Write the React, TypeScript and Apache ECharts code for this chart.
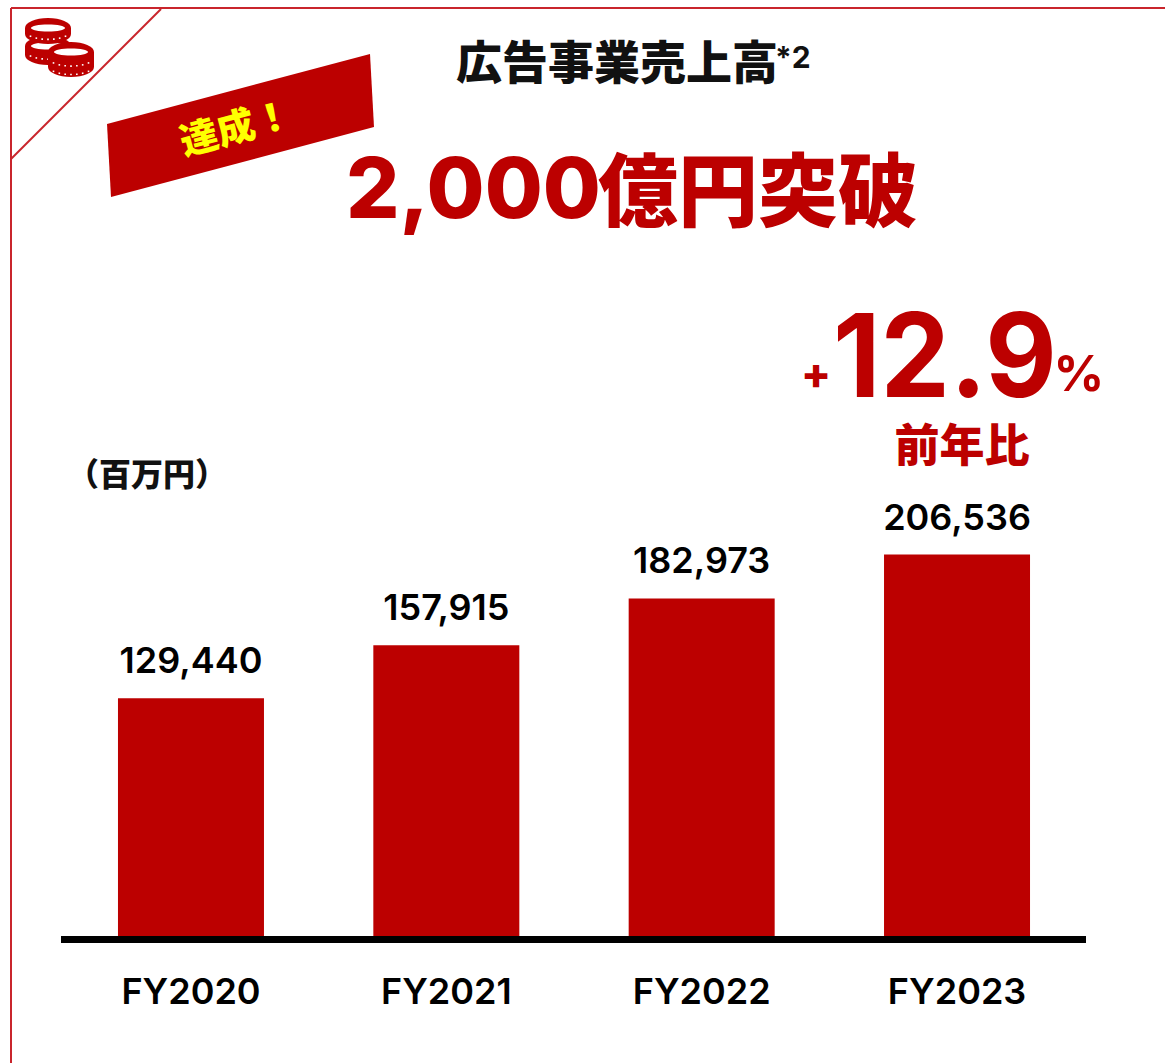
import React, { useEffect, useRef } from "react";
import * as echarts from "echarts";

const categories = ["FY2020", "FY2021", "FY2022", "FY2023"];
const revenue = [129440, 157915, 182973, 206536];

const RED = "#bc0000";
const LINE = "#c9252c";
const CJK = '"Noto Sans CJK JP", sans-serif';
const LATIN = 'Inter, "Noto Sans", sans-serif';

function coin(cx: number, cy: number, rx: number, ry: number, h: number, z: number) {
  const els: any[] = [];
  els.push({ type: "ellipse", z, shape: { cx, cy: cy + h, rx, ry }, style: { fill: RED } });
  els.push({ type: "rect", z, shape: { x: cx - rx, y: cy, width: 2 * rx, height: h }, style: { fill: RED } });
  els.push({ type: "ellipse", z, shape: { cx, cy, rx, ry }, style: { fill: RED } });
  els.push({ type: "ellipse", z: z + 1, shape: { cx, cy, rx: rx - 6, ry: ry - 6.5 }, style: { fill: "#fff" } });
  const rows = h > 10 ? [0.42, 0.98] : [0.6];
  for (const row of rows) {
    for (let i = -3; i <= 3; i++) {
      const dx = (i / 3.6) * (rx - 2);
      const dy = (ry - 1) * Math.sqrt(Math.max(0, 1 - (dx * dx) / (rx * rx)));
      els.push({
        type: "rect",
        z: z + 1,
        shape: { x: cx + dx - 0.8, y: cy + dy + h * row - 2, width: 1.6, height: 1.6 },
        style: { fill: "#fff" },
      });
    }
  }
  return els;
}

export default function App() {
  const ref = useRef<HTMLDivElement>(null);
  useEffect(() => {
    const chart = echarts.init(ref.current!, undefined, { renderer: "svg" });
    chart.setOption({
      animation: false,
      backgroundColor: "#fff",
      grid: { left: 63.3, width: 1021.4, top: 473.5, height: 466 },
      xAxis: {
        type: "category",
        data: categories,
        axisTick: { show: false },
        axisLine: { show: true, lineStyle: { color: "#000", width: 7, cap: "butt" } },
        axisLabel: { color: "#000", fontFamily: LATIN, fontWeight: 600, fontSize: 36, margin: 33 },
      },
      yAxis: { type: "value", min: 0, max: 250000, show: false, splitLine: { show: false } },
      series: [
        {
          type: "bar",
          data: revenue,
          barWidth: 146,
          itemStyle: { color: RED },
          label: {
            show: true,
            position: "top",
            distance: 20,
            color: "#000",
            fontFamily: LATIN,
            fontWeight: 600,
            fontSize: 36,
            formatter: (p: any) => Number(p.value).toLocaleString("en-US"),
          },
        },
      ],
      graphic: [
        { type: "rect", silent: true, z: 50, shape: { x: 61, y: 936, width: 1025, height: 7 }, style: { fill: "#000" } },
        { type: "line", shape: { x1: 11, y1: 8, x2: 1165, y2: 8 }, style: { stroke: LINE, lineWidth: 2 } },
        { type: "line", shape: { x1: 11, y1: 8, x2: 11, y2: 1063 }, style: { stroke: LINE, lineWidth: 2 } },
        { type: "line", shape: { x1: 161, y1: 9, x2: 11, y2: 159 }, style: { stroke: LINE, lineWidth: 2 } },
        ...coin(48, 28, 23, 10, 6, 10),
        ...coin(48, 46, 23, 10, 9, 5),
        ...coin(71, 52, 23, 10, 15, 20),
        { type: "polygon", shape: { points: [[107, 124], [370, 54], [374, 127], [111, 197]] }, style: { fill: RED } },
        {
          type: "text",
          x: 235,
          y: 125,
          rotation: (15 * Math.PI) / 180,
          style: { text: "達成！", fill: "#ffff00", font: `900 38px ${CJK}`, align: "center", verticalAlign: "middle" },
        },
        {
          type: "text",
          x: 456,
          y: 59,
          style: { text: "広告事業売上高", fill: "#111", font: `900 46px ${CJK}`, align: "left", verticalAlign: "middle" },
        },
        {
          type: "text",
          x: 775,
          y: 57,
          style: { text: "*2", fill: "#111", font: `700 30px ${LATIN}`, align: "left", verticalAlign: "middle" },
        },
        {
          type: "text",
          x: 346,
          y: 187,
          style: { text: "2,000", fill: RED, font: `800 84px ${LATIN}`, align: "left", verticalAlign: "middle" },
        },
        {
          type: "text",
          x: 598,
          y: 185,
          style: { text: "億円突破", fill: RED, font: `900 80px ${CJK}`, align: "left", verticalAlign: "middle" },
        },
        {
          type: "text",
          x: 816,
          y: 373,
          style: { text: "+", fill: RED, font: `800 44px ${LATIN}`, align: "center", verticalAlign: "middle" },
        },
        {
          type: "text",
          x: 833,
          y: 354,
          scaleX: 0.95,
          style: { text: "12.9", fill: RED, font: `700 116px ${LATIN}`, lineHeight: 84, align: "left", verticalAlign: "middle" },
        },
        {
          type: "text",
          x: 1079,
          y: 373,
          style: { text: "%", fill: RED, font: `700 50px ${LATIN}`, align: "center", verticalAlign: "middle" },
        },
        {
          type: "text",
          x: 962,
          y: 442,
          style: { text: "前年比", fill: RED, font: `900 45px ${CJK}`, lineHeight: 46, align: "center", verticalAlign: "middle" },
        },
        {
          type: "text",
          x: 147,
          y: 472,
          style: { text: "（百万円）", fill: "#111", font: `900 32px ${CJK}`, align: "center", verticalAlign: "middle" },
        },
      ],
    });
    return () => chart.dispose();
  }, []);
  return <div ref={ref} style={{ position: "absolute", left: 0, top: 0, width: 1165, height: 1063 }} />;
}
